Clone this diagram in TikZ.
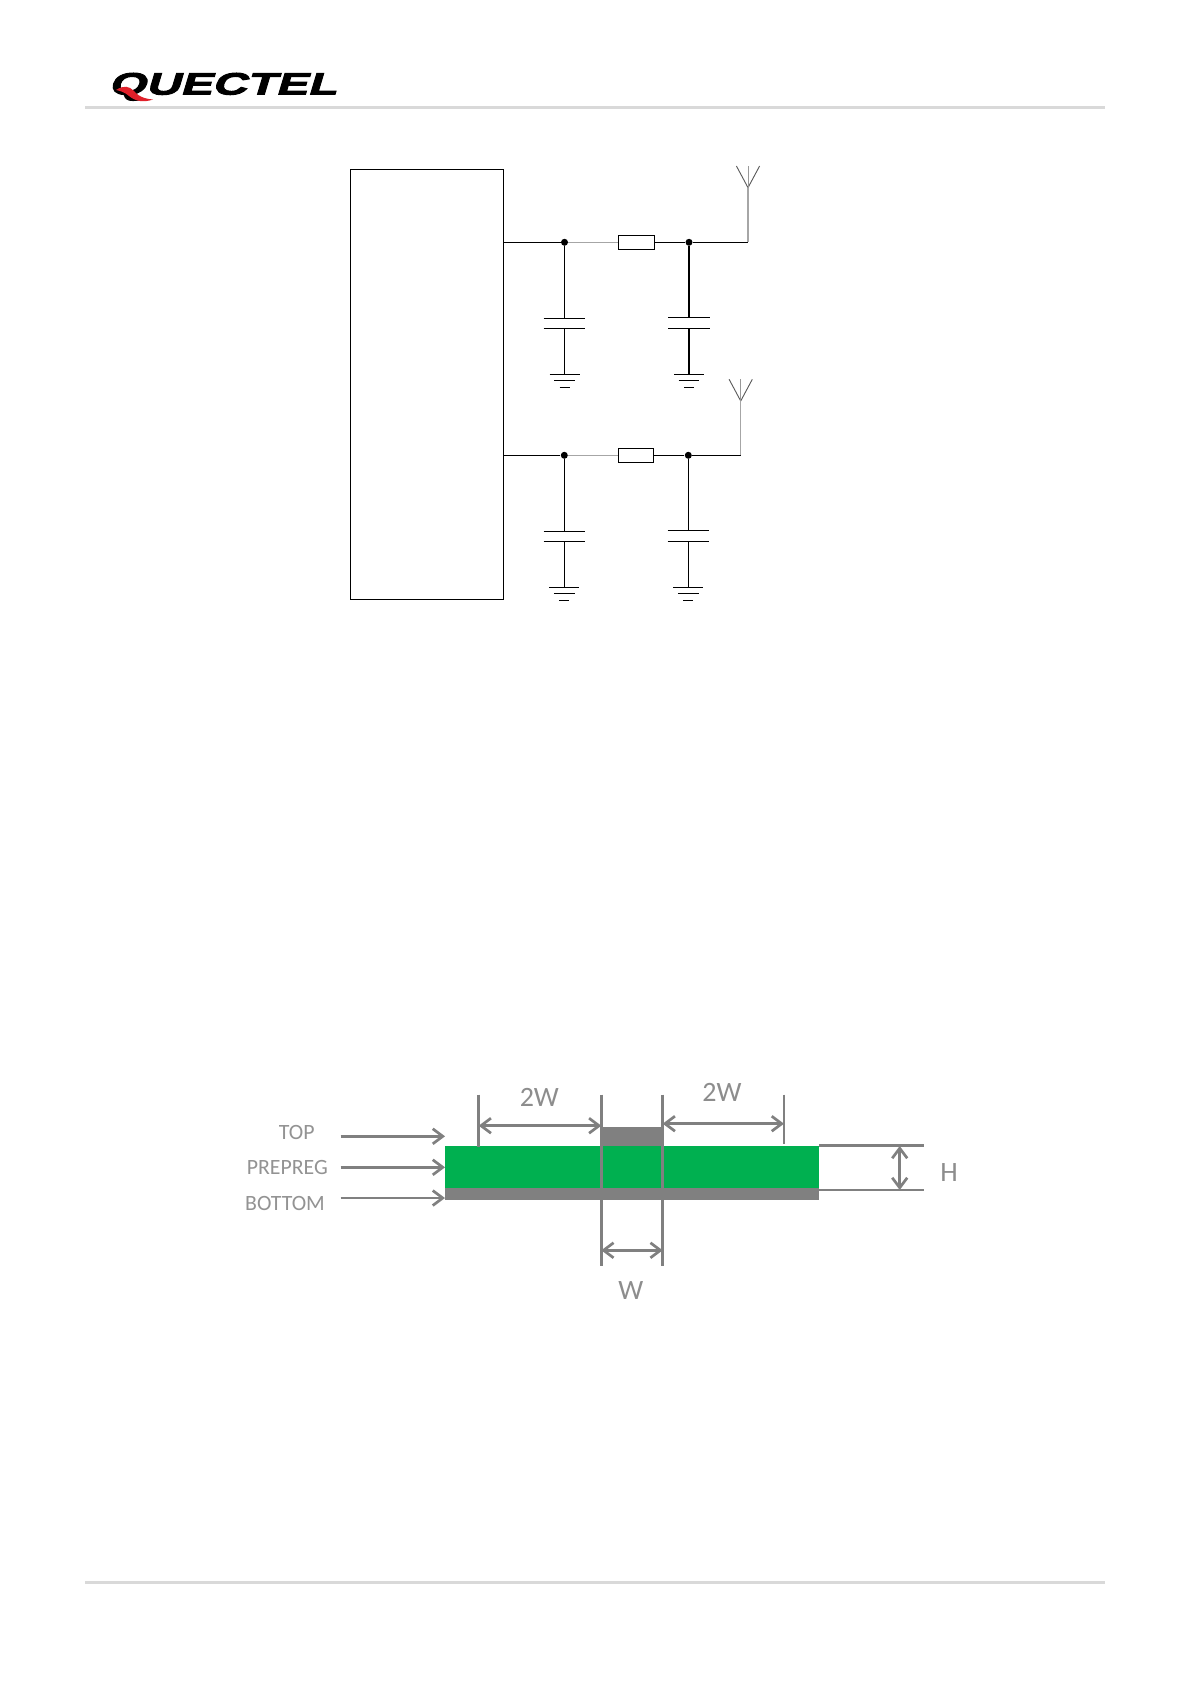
\documentclass[tikz,border=0pt]{standalone}
\usepackage{fontspec}
\setmainfont{Carlito}
\newfontfamily\logofont[FakeStretch=1.55,FakeBold=3.2,FakeSlant=0.3]{Liberation Sans Bold}
\usetikzlibrary{arrows.meta}
\definecolor{dimgray}{HTML}{808080}
\definecolor{pcbgreen}{HTML}{00B050}
\definecolor{rulegray}{HTML}{D9D9D9}
\definecolor{logored}{HTML}{E0202A}
\definecolor{wiregray}{HTML}{A6A6A6}
\tikzset{
  wire/.style={line width=0.6pt,black},
  softwire/.style={line width=0.7pt,wiregray},
  antarm/.style={line width=0.45pt,black!65},
  box/.style={draw=black,line width=0.6pt,fill=white,inner sep=0pt,outer sep=0pt},
  dot/.style={circle,fill=black,inner sep=0pt,minimum size=3.5pt},
  dimline/.style={line width=1.35pt,dimgray},
  dimarrow/.style={line width=1.35pt,dimgray,{Straight Barb[length=5pt,width=7.5pt,line width=1.35pt]}-{Straight Barb[length=5pt,width=7.5pt,line width=1.35pt]}},
  leadarrow/.style={line width=1.35pt,dimgray,-{Straight Barb[length=5pt,width=7.5pt,line width=1.35pt]}},
  lbl/.style={inner sep=0pt,text=dimgray!85,font=\fontsize{10.9pt}{13pt}\selectfont},
  dimlbl/.style={inner sep=0pt,text=dimgray!90,font=\fontsize{14pt}{16pt}\selectfont},
  headrule/.style={line width=1.5pt,rulegray}
}
% name, x, plate1 y, plate2 y, ground y
\newcommand{\capgnd}[5]{%
  \coordinate (#1p1) at (#2,#3); \coordinate (#1p2) at (#2,#4);
  \coordinate (#1g) at (#2,#5);
  \draw[wire] (#1) -- (#1p1);
  \draw[wire] (#1p2) -- (#1g);
  \draw[wire] ([xshift=-10.4pt]#1p1) -- ([xshift=10.4pt]#1p1);
  \draw[wire] ([xshift=-10.4pt]#1p2) -- ([xshift=10.4pt]#1p2);
  \draw[wire] ([xshift=-7.5pt]#1g) -- ([xshift=7.5pt]#1g);
  \draw[wire] ([xshift=-5.2pt,yshift=-3.2pt]#1g) -- ([xshift=5.2pt,yshift=-3.2pt]#1g);
  \draw[wire] ([xshift=-2.5pt,yshift=-6.5pt]#1g) -- ([xshift=2.5pt,yshift=-6.5pt]#1g);
}
% name, x, apex y, top y
\newcommand{\antenna}[4]{%
  \coordinate (#1a) at (#2,#3); \coordinate (#1t) at (#2,#4);
  \draw[antarm] ([xshift=-5.8pt]#1t) -- (#1a) -- ([xshift=5.8pt]#1t);
  \draw[line width=0.3pt,black!40] (#1a) -- (#1t);
}
\begin{document}
\begin{tikzpicture}[x=0.5pt,y=-0.5pt]
\useasboundingbox (0,0) rectangle (1191,1684);
\fill[white] (0,0) rectangle (1191,1684);

% header / footer
\coordinate (hl) at (85,107.5); \coordinate (hr) at (1105,107.5);
\coordinate (fl) at (85,1582.3); \coordinate (fr) at (1105,1582.3);
\draw[headrule] (hl) -- (hr);
\draw[headrule] (fl) -- (fr);
\node[inner sep=0pt,anchor=base west] (logo) at (108,94.5) {\logofont\fontsize{15.4pt}{16pt}\selectfont QUECTEL};
\fill[logored] (116,90) .. controls (124,85) and (129,86) .. (134,91) .. controls (140,98) and (147,99) .. (153,99.5) .. controls (143,103) and (135,101) .. (129,96) .. controls (125,92.5) and (121,91) .. (116,90) -- cycle;

% module
\node[box,anchor=north west,minimum width=76.5pt,minimum height=215pt] (mod) at (350.5,169.5) {};

% upper circuit
\coordinate (w1s) at (mod.east |- 0,242.3);
\node[dot] (j1a) at (564.5,242.3) {};
\node[box,minimum width=18pt,minimum height=7pt] (r1) at (636.3,242.3) {};
\node[dot] (j1b) at (689,242.3) {};
\coordinate (c1) at (748,242.3);
\draw[wire] (w1s) -- (j1a);
\draw[softwire] (j1a) -- (r1);
\draw[wire] (r1) -- (j1b);
\draw[wire] (j1b) -- (c1);
\antenna{ant1}{748}{187.7}{166}
\draw[softwire] (c1) -- (ant1a);
\capgnd{j1a}{564.5}{318.3}{328.3}{374.3}
\capgnd{j1b}{689}{317.3}{328.3}{374.3}

% lower circuit
\coordinate (w2s) at (mod.east |- 0,455.3);
\node[dot] (j2a) at (564.3,455.3) {};
\node[box,minimum width=17.7pt,minimum height=7pt] (r2) at (636,455.3) {};
\node[dot] (j2b) at (688.3,455.3) {};
\coordinate (c2) at (740.7,455.3);
\draw[wire] (w2s) -- (j2a);
\draw[softwire] (j2a) -- (r2);
\draw[wire] (r2) -- (j2b);
\draw[wire] (j2b) -- (c2);
\antenna{ant2}{740.7}{401}{379.3}
\draw[softwire] (c2) -- (ant2a);
\capgnd{j2a}{564.3}{531.3}{541.3}{587.3}
\capgnd{j2b}{688.3}{530.3}{541.3}{587.3}

% PCB stack
\fill[pcbgreen] (444.7,1145.7) rectangle (819.3,1188.3);
\fill[dimgray] (444.7,1188.3) rectangle (819.3,1200.3);
\fill[dimgray] (600.7,1127.3) rectangle (664,1145.7);

% vertical dimension lines
\coordinate (v1t) at (478.7,1094.7); \coordinate (v1b) at (478.7,1147.3);
\coordinate (v2t) at (601.3,1094.7); \coordinate (v2b) at (601.3,1266);
\coordinate (v3t) at (662.7,1094.7); \coordinate (v3b) at (662.7,1266);
\coordinate (v4t) at (784,1094.7);   \coordinate (v4b) at (784,1144);
\foreach \a/\b in {v1t/v1b,v2t/v2b,v3t/v3b,v4t/v4b} \draw[dimline] (\a) -- (\b);

% width arrows
\draw[dimarrow] (v1t |- 0,1125.7) -- (v2t |- 0,1125.7);
\draw[dimarrow] (v3t |- 0,1123.7) -- (v4t |- 0,1123.7);
\draw[dimarrow] (v2t |- 0,1250.3) -- (v3t |- 0,1250.3);

% H
\coordinate (h1l) at (819.3,1145.7); \coordinate (h1r) at (923.7,1145.7);
\coordinate (h2l) at (819.3,1190);   \coordinate (h2r) at (923.7,1190);
\draw[dimline] (h1l) -- (h1r);
\draw[dimline] (h2l) -- (h2r);
\draw[dimarrow] (899.7,1146) -- (899.7,1190);

% left labels and arrows
\node[lbl] (top) at (296.7,1132.7) {TOP};
\node[lbl] (pre) at (287.3,1167.7) {PREPREG};
\node[lbl] (bot) at (285,1203.3) {BOTTOM};
\coordinate (a1s) at (340.7,1136.3); \coordinate (a1e) at (445,1136.3);
\coordinate (a2s) at (340.7,1167.3); \coordinate (a2e) at (445,1167.3);
\coordinate (a3s) at (340.7,1198);   \coordinate (a3e) at (445,1198);
\draw[leadarrow] (a1s) -- (a1e);
\draw[leadarrow] (a2s) -- (a2e);
\draw[leadarrow] (a3s) -- (a3e);

% dimension labels
\node[dimlbl] (w2l) at (539.3,1097) {2W};
\node[dimlbl] (w2r) at (722,1092.7) {2W};
\node[dimlbl] (w1) at (630.7,1290.7) {W};
\node[dimlbl] (hh) at (949,1172.7) {H};
\end{tikzpicture}
\end{document}
